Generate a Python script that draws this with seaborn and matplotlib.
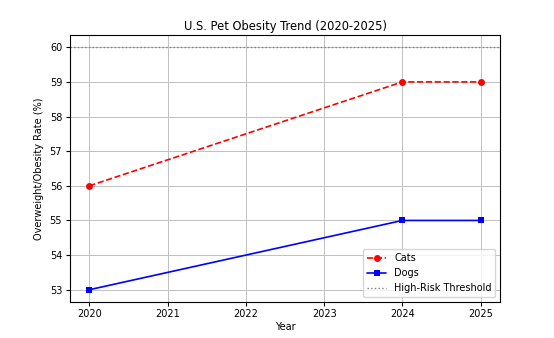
import matplotlib
matplotlib.use("Agg")
import matplotlib.pyplot as plt
import seaborn as sns
import pandas as pd

years = [2020, 2024, 2025]
cats = [56, 59, 59]
dogs = [53, 55, 55]
threshold = 60
year_ticks = [2020, 2021, 2022, 2023, 2024, 2025]

sns.set_style("ticks")
plt.rcParams["font.family"] = ["DejaVu Sans"]
plt.rcParams["font.size"] = 7
plt.rcParams["text.color"] = "black"
plt.rcParams["axes.labelcolor"] = "black"
plt.rcParams["xtick.color"] = "black"
plt.rcParams["ytick.color"] = "black"

df = pd.DataFrame({"Year": years, "Cats": cats, "Dogs": dogs})

fig = plt.figure(figsize=(5.54, 3.38), dpi=100)
ax = fig.add_axes([0.126, 0.107, 0.777, 0.789])

sns.lineplot(data=df, x="Year", y="Cats", ax=ax, color="red", linestyle="--",
             marker="o", markersize=5, markeredgewidth=0, linewidth=1.2, label="Cats")
sns.lineplot(data=df, x="Year", y="Dogs", ax=ax, color="blue", linestyle="-",
             marker="s", markersize=5, markeredgewidth=0, linewidth=1.2, label="Dogs")
ax.axhline(threshold, color="gray", linestyle=":", linewidth=1.0, label="High-Risk Threshold")

ax.set_xticks(year_ticks)
ax.set_title("U.S. Pet Obesity Trend (2020-2025)", fontsize=8.3, color="black", pad=4)
ax.set_xlabel("Year", fontsize=7, labelpad=2)
ax.set_ylabel("Overweight/Obesity Rate (%)", fontsize=7)
ax.tick_params(labelsize=7, length=3, width=0.8, pad=2.5)
ax.grid(True, color="#c0c0c0", linewidth=0.7)
for s in ax.spines.values():
    s.set_linewidth(0.8)
    s.set_color("black")
ax.legend(loc="lower right", fontsize=7, frameon=True)

fig.savefig("out.png", dpi=100)
